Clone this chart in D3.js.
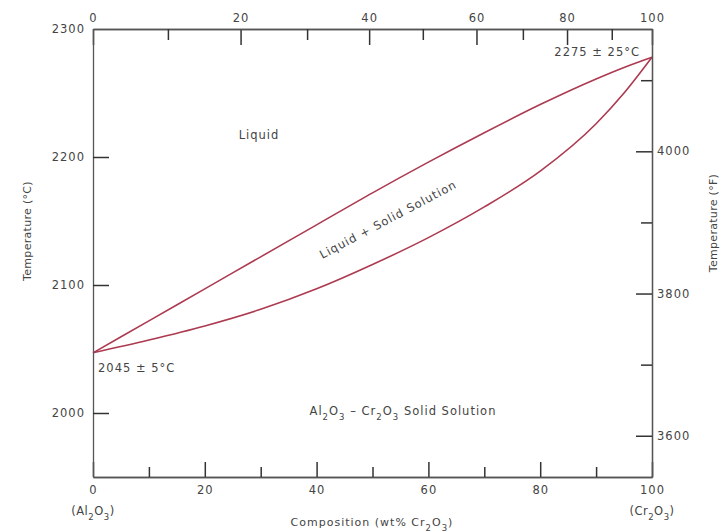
<!DOCTYPE html>
<html>
<head>
<meta charset="utf-8">
<script src="https://cdn.jsdelivr.net/npm/d3@7"></script>
<style>
  body { margin: 0; background: #fff; }
  text { font-family: 'DejaVu Sans', sans-serif; fill: #444; }
</style>
</head>
<body>
<div id="chart"></div>
<script>

////////////////////////////////////////////////////////////
// Data
////////////////////////////////////////////////////////////

// Composition, wt% Cr2O3
const comp_wt = [0, 10, 20, 30, 40, 50, 60, 70, 80, 90, 95, 100]

// Liquidus temperature, degC
const liquidus_c = [2047, 2072, 2097, 2122, 2147, 2172, 2196, 2219, 2241, 2261, 2270, 2278]

// Solidus temperature, degC
const solidus_c = [2047, 2057, 2068, 2081, 2097, 2116, 2137, 2161, 2189, 2226, 2250, 2278]

// Bottom axis ticks (wt%)
const bottom_major = [0, 20, 40, 60, 80, 100]
const bottom_minor = [10, 30, 50, 70, 90]

// Top axis ticks (mol%) and where they sit in wt%
const top_mol = [0, 10, 20, 30, 40, 50, 60, 70, 80, 90, 100]
const top_mol_at_wt = [0, 13.4, 26.4, 38.3, 49.4, 59.0, 68.6, 76.9, 84.8, 92.8, 100]
const top_major = [0, 20, 40, 60, 80, 100]

// Left axis ticks (degC)
const left_ticks = [2000, 2100, 2200, 2300]
const temp_range_c = [1950, 2300]

// Right axis ticks (degF)
const right_major = [3600, 3800, 4000]
const right_minor = [3700, 3900, 4100]

////////////////////////////////////////////////////////////
// Phase diagram
////////////////////////////////////////////////////////////

class PhaseDiagram {

  constructor(parent_id) {
    this.W = 728
    this.H = 532
    this.margin = { top: 29, right: 76, bottom: 55, left: 93 }
    this.inner_W = this.W - this.margin.left - this.margin.right
    this.inner_H = this.H - this.margin.top - this.margin.bottom
    this.parent = d3.select(`#${parent_id}`)
    this.line_color = '#ac3a50'
    this.axis_color = '#555'
    this.fmt = d3.format('d')
  }

  gen_svg() {
    this.svg = this.parent
      .append('svg')
      .attr('width', this.W)
      .attr('height', this.H)

    this.g = this.svg
      .append('g')
      .attr('transform', `translate(${this.margin.left},${this.margin.top})`)
  }

  gen_scales() {
    this.x = d3.scaleLinear()
      .domain([0, 100])
      .range([0, this.inner_W])

    this.x_top = d3.scaleLinear()
      .domain(top_mol)
      .range(top_mol_at_wt.map(d => this.x(d)))

    this.y = d3.scaleLinear()
      .domain(temp_range_c)
      .range([this.inner_H, 0])

    // degF scale on the same span
    this.y_f = d3.scaleLinear()
      .domain(temp_range_c.map(c => c * 1.8 + 32))
      .range([this.inner_H, 0])
  }

  style_axis(sel) {
    sel.select('.domain')
      .attr('stroke', this.axis_color)
      .attr('stroke-width', 1.3)
    sel.selectAll('.tick line')
      .attr('stroke', '#333')
      .attr('stroke-width', 1.5)
    sel.selectAll('.tick text')
      .attr('fill', '#444')
      .style('font-size', '11.5px')
      .style('letter-spacing', '1px')
  }

  draw_axes() {

    // Bottom
    let bottom = this.g.append('g')
      .attr('transform', `translate(0,${this.inner_H})`)
      .call(d3.axisBottom(this.x).tickValues(bottom_major).tickFormat(this.fmt)
        .tickSizeInner(-15).tickSizeOuter(0).tickPadding(9))
    this.style_axis(bottom)

    let bottom_m = this.g.append('g')
      .attr('transform', `translate(0,${this.inner_H})`)
      .call(d3.axisBottom(this.x).tickValues(bottom_minor)
        .tickSizeInner(-10).tickSizeOuter(0).tickFormat(''))
    this.style_axis(bottom_m)

    // Top (mol%)
    let top = this.g.append('g')
      .call(d3.axisTop(this.x_top).tickValues(top_major).tickFormat(this.fmt)
        .tickSizeInner(-16).tickSizeOuter(0).tickPadding(7))
    this.style_axis(top)

    let top_m = this.g.append('g')
      .call(d3.axisTop(this.x_top).tickValues(top_mol.filter(d => !top_major.includes(d)))
        .tickSizeInner(-11).tickSizeOuter(0).tickFormat(''))
    this.style_axis(top_m)

    // Left (degC)
    let left = this.g.append('g')
      .call(d3.axisLeft(this.y).tickValues(left_ticks).tickFormat(this.fmt)
        .tickSizeInner(-16).tickSizeOuter(0).tickPadding(8))
    this.style_axis(left)
    left.selectAll('.tick').filter(d => d === 2300).select('line').remove()

    // Right (degF)
    let right = this.g.append('g')
      .attr('transform', `translate(${this.inner_W},0)`)
      .call(d3.axisRight(this.y_f).tickValues(right_major).tickFormat(this.fmt)
        .tickSizeInner(-16).tickSizeOuter(0).tickPadding(5))
    this.style_axis(right)

    let right_m = this.g.append('g')
      .attr('transform', `translate(${this.inner_W},0)`)
      .call(d3.axisRight(this.y_f).tickValues(right_minor)
        .tickSizeInner(-11).tickSizeOuter(0).tickFormat(''))
    this.style_axis(right_m)
  }

  draw_curves() {
    let line = d3.line()
      .x(d => this.x(d[0]))
      .y(d => this.y(d[1]))
      .curve(d3.curveMonotoneX)

    for (let temps of [liquidus_c, solidus_c]) {
      this.g.append('path')
        .datum(comp_wt.map((c, i) => [c, temps[i]]))
        .attr('d', line)
        .attr('fill', 'none')
        .attr('stroke', this.line_color)
        .attr('stroke-width', 1.6)
    }
  }

  // text with subscripts, parts = [[str, is_sub], ...]
  add_text(x, y, parts, opts = {}) {
    let t = this.svg.append('text')
      .attr('x', x)
      .attr('y', y)
      .attr('text-anchor', opts.anchor || 'middle')
      .style('font-size', opts.size || '11.5px')
      .style('letter-spacing', opts.ls || '1px')
    if (opts.rotate) {
      t.attr('transform', `rotate(${opts.rotate},${x},${y})`)
    }
    for (let p of parts) {
      let s = t.append('tspan').text(p[0])
      if (p[1]) {
        s.attr('baseline-shift', 'sub').style('font-size', '8.5px')
      }
    }
    return t
  }

  draw_labels() {

    // Region labels
    this.add_text(259, 139, [['Liquid']])
    this.add_text(390, 223, [['Liquid + Solid Solution']], { rotate: -28 })
    this.add_text(403, 415, [
      ['Al'], ['2', true], ['O'], ['3', true], [' \u2013 Cr'], ['2', true], ['O'], ['3', true],
      [' Solid Solution']
    ])

    // Melting points
    this.add_text(640, 56, [['2275 \u00b1 25\u00b0C']], { anchor: 'end' })
    this.add_text(98, 372, [['2045 \u00b1 5\u00b0C']], { anchor: 'start' })

    // End members
    this.add_text(93, 515, [['(Al'], ['2', true], ['O'], ['3', true], [')']], { ls: '0.5px' })
    this.add_text(652, 515, [['(Cr'], ['2', true], ['O'], ['3', true], [')']], { ls: '0.5px' })

    // Axis titles
    this.add_text(372, 526, [['Composition (wt% Cr'], ['2', true], ['O'], ['3', true], [')']],
      { size: '11px', ls: '1px' })
    this.add_text(31, 231, [['Temperature (\u00b0C)']], { rotate: -90, size: '11px', ls: '0.3px' })
    this.add_text(717, 223, [['Temperature (\u00b0F)']], { rotate: -90, size: '11px', ls: '0.3px' })
  }

  draw() {
    this.gen_svg()
    this.gen_scales()
    this.draw_curves()
    this.draw_axes()
    this.draw_labels()
  }

}

let diagram = new PhaseDiagram('chart')
diagram.draw()

</script>
</body>
</html>
